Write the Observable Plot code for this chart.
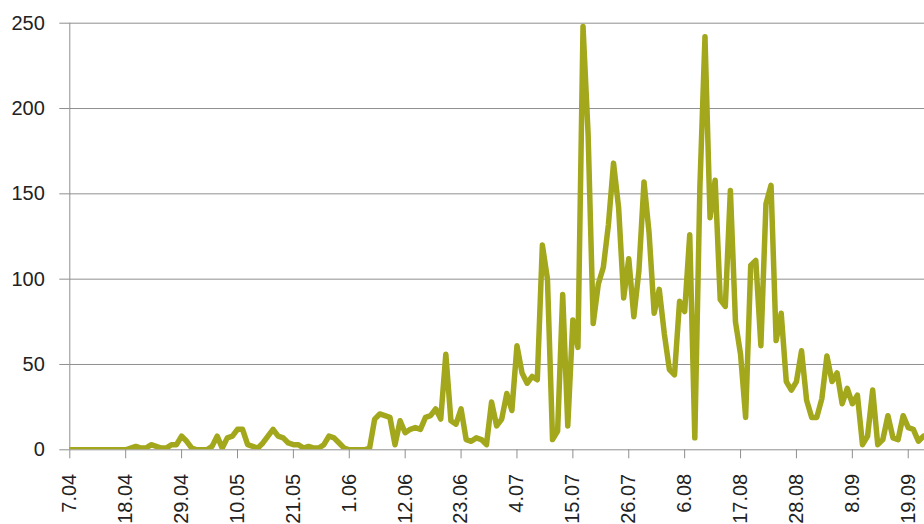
<!DOCTYPE html>
<html><head><meta charset="utf-8">
<script src="https://cdn.jsdelivr.net/npm/d3@7"></script>
<script src="https://cdn.jsdelivr.net/npm/@observablehq/plot@0.6"></script>
<style>
body{margin:0;background:#fff;}
#chart svg g[aria-label="x-axis tick"], #chart svg g[aria-label="y-axis tick"]{stroke:#8f8f8f;}
#chart svg .tick line{stroke:#8f8f8f;}
</style>
</head><body><div id="chart"></div>
<script>
// first day of the series (7.04)
const startDate = "2019-04-07";
// daily values, one per day from 7.04
const values = [
  0,0,0,0,0,0,0,0,0,0,0,0,1,
  2,1,1,3,2,1,1,3,3,8,5,1,0,0,0,2,8,1,7,8,12,12,
  3,2,1,4,8,12,8,7,4,3,3,1,2,1,1,3,8,7,4,1,0,0,0,0,1,
  18,21,20,19,3,17,10,12,13,12,19,20,24,18,56,17,15,24,6,5,7,6,3,28,14,18,33,23,61,45,39,43,41,
  120,100,6,11,91,14,76,60,248,185,74,97,107,132,168,142,89,112,78,105,157,127,80,94,68,47,44,87,81,126,
  7,154,242,136,158,88,84,152,75,56,19,108,111,61,144,155,64,80,40,35,40,58,29,19,19,30,55,40,45,27,36,27,32,
  3,8,35,3,6,20,7,6,20,13,12,5,8
];
const yTicks = [0, 50, 100, 150, 200, 250];
const tickEveryDays = 11;
const tickFormat = "%-d.%m";

const start = new Date(startDate + "T00:00:00Z");
const data = values.map((v, i) => ({date: d3.utcDay.offset(start, i), value: v}));
const xTicks = d3.range(0, values.length, tickEveryDays).map(i => d3.utcDay.offset(start, i));
const end = new Date(start.getTime() + 168.2 * 864e5);

const chart = Plot.plot({
  width: 924,
  height: 524,
  marginLeft: 69.3,
  marginRight: 0,
  marginTop: 22.7,
  marginBottom: 74.7,
  style: {fontFamily: "'Liberation Sans', Arial, sans-serif", fontSize: "20px", color: "#222", background: "#fff"},
  x: {type: "utc", domain: [start, end], ticks: xTicks, tickFormat: d3.utcFormat(tickFormat), tickRotate: -90, tickSize: 9, tickPadding: 15, label: null},
  y: {domain: [0, 250], ticks: yTicks, tickSize: 10, tickPadding: 15, label: null},
  marks: [
    Plot.ruleY(yTicks.slice(1), {stroke: "#8f8f8f", strokeWidth: 1}),
    Plot.ruleY([0], {stroke: "#8f8f8f", strokeWidth: 1}),
    Plot.ruleX([start], {stroke: "#8f8f8f", strokeWidth: 1}),
    Plot.line(data, {x: "date", y: "value", stroke: "#a2a71c", strokeWidth: 5.5, strokeLinejoin: "round", strokeLinecap: "round", clip: true})
  ]
});
document.getElementById("chart").appendChild(chart);
</script>
</body></html>
